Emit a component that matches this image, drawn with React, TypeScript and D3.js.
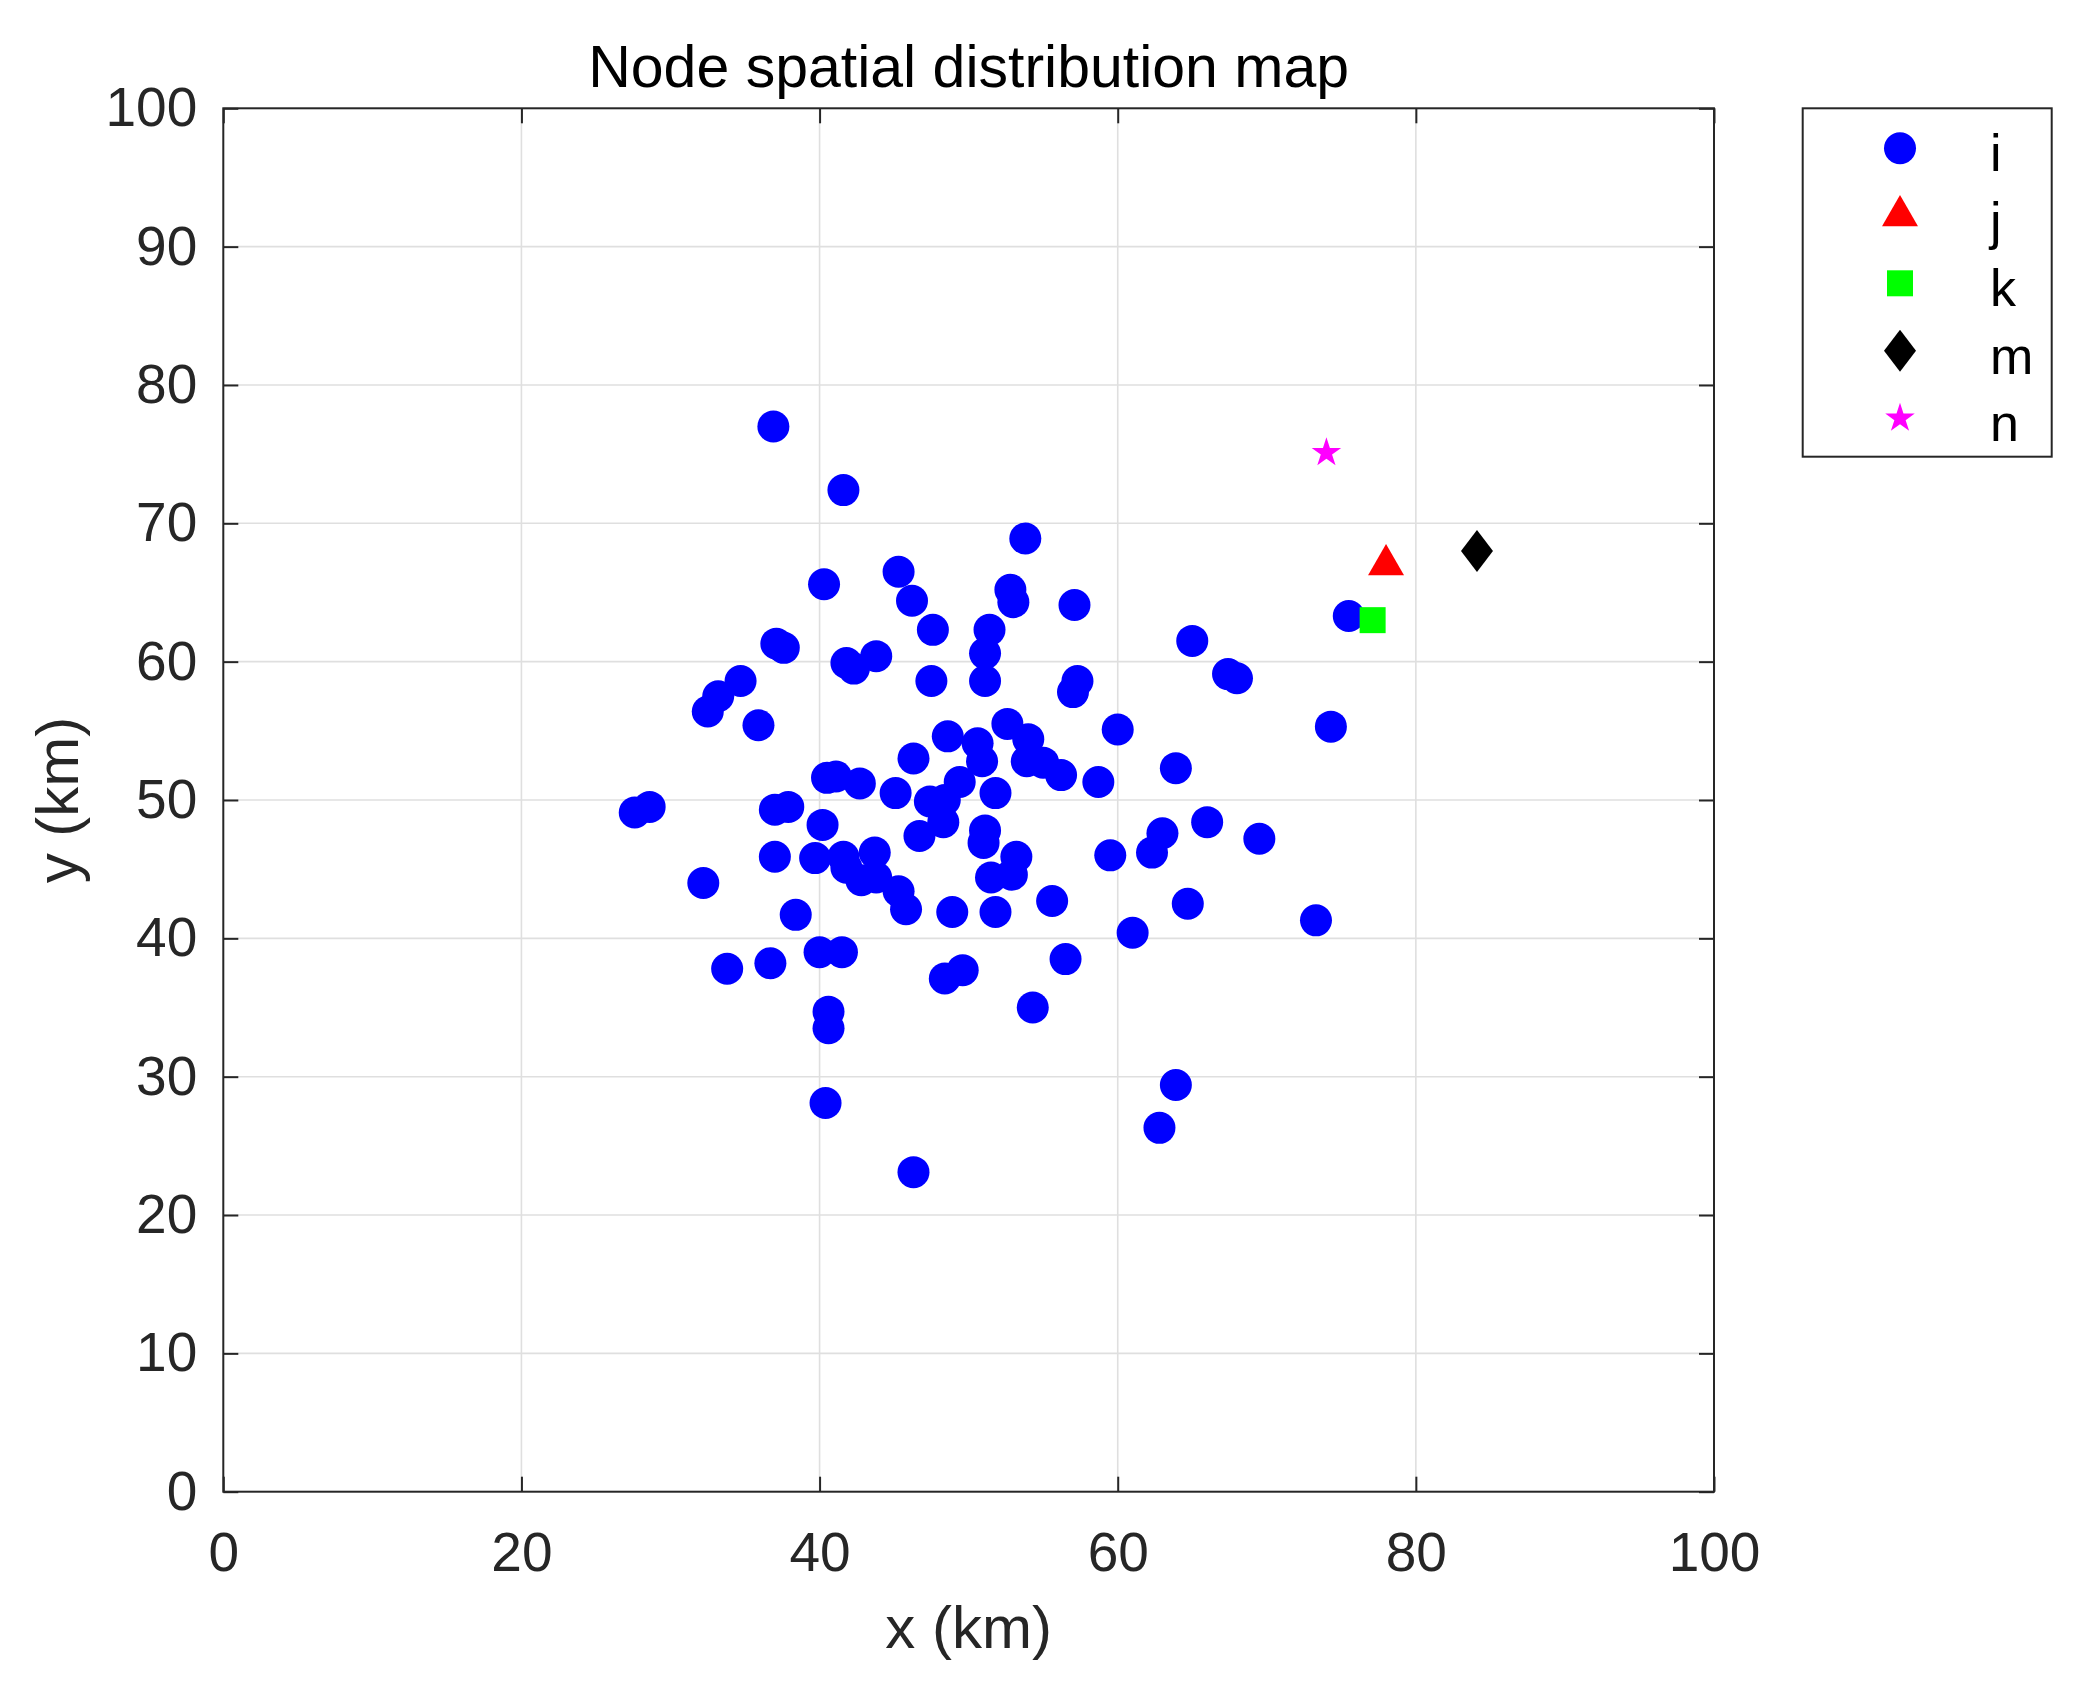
import React, { useEffect, useRef } from "react";
import * as d3 from "d3";

// node i (blue circles)
const nodeX = [
  36.9, 41.6, 53.8, 45.3, 40.3, 52.8, 53.0, 46.2, 57.1, 47.6,
  51.4, 75.5, 37.1, 37.6, 65.0, 41.8, 42.3, 43.8, 51.1, 51.1,
  47.5, 34.7, 33.2, 32.5, 35.9, 57.3, 57.0, 67.4, 68.0, 74.3,
  60.0, 48.6, 50.6, 52.6, 54.0, 50.9, 46.3, 53.9, 55.0, 56.2,
  58.7, 63.9, 42.7, 40.5, 41.1, 45.1, 49.4, 48.4, 47.4, 51.8,
  27.6, 28.6, 37.0, 37.9, 40.2, 48.3, 46.7, 51.1, 51.0, 66.0,
  63.0, 69.5, 53.2, 59.5, 62.3, 37.0, 39.7, 41.6, 43.7, 41.8,
  42.8, 43.8, 45.3, 45.8, 51.5, 52.9, 32.2, 38.4, 48.9, 51.8,
  55.6, 64.7, 73.3, 61.0, 40.0, 41.5, 36.7, 33.8, 56.5, 48.4,
  49.6, 54.3, 40.6, 40.6, 40.4, 63.9, 62.8, 46.3,
];
const nodeY = [
  77.0, 72.4, 68.9, 66.5, 65.6, 65.2, 64.3, 64.4, 64.1, 62.3,
  62.3, 63.3, 61.3, 61.0, 61.5, 59.9, 59.5, 60.4, 60.6, 58.6,
  58.6, 58.6, 57.5, 56.4, 55.4, 58.6, 57.8, 59.1, 58.8, 55.3,
  55.1, 54.6, 54.1, 55.5, 54.4, 52.8, 53.0, 52.8, 52.7, 51.8,
  51.3, 52.3, 51.2, 51.6, 51.7, 50.5, 51.3, 50.0, 49.9, 50.5,
  49.1, 49.5, 49.3, 49.5, 48.2, 48.4, 47.4, 47.8, 46.9, 48.4,
  47.6, 47.2, 45.9, 46.0, 46.2, 45.9, 45.8, 45.9, 46.2, 45.1,
  44.2, 44.4, 43.4, 42.1, 44.4, 44.6, 44.0, 41.7, 41.9, 41.9,
  42.7, 42.5, 41.3, 40.4, 39.0, 39.0, 38.2, 37.8, 38.5, 37.1,
  37.7, 35.0, 34.7, 33.5, 28.1, 29.4, 26.3, 23.1,
];

// single nodes j, k, m, n
const nodeJ = [78.0, 67.0];
const nodeK = [77.1, 63.0];
const nodeM = [84.1, 68.0];
const nodeN = [74.0, 75.1];

const legendLabels = ["i", "j", "k", "m", "n"];
const xTicks = [0, 20, 40, 60, 80, 100];
const yTicks = [0, 10, 20, 30, 40, 50, 60, 70, 80, 90, 100];

const W = 2078;
const H = 1689;
const FONT = "'Liberation Sans', Arial, Helvetica, sans-serif";
const AXIS_COLOR = "#262626";

function diamondPath(w: number, h: number) {
  const p = d3.path();
  p.moveTo(0, -h / 2);
  p.lineTo(w / 2, 0);
  p.lineTo(0, h / 2);
  p.lineTo(-w / 2, 0);
  p.closePath();
  return p.toString();
}

// marker painters, one per series
const markers = [
  { path: d3.symbol(d3.symbolCircle, Math.PI * 16 * 16)(), fill: "#0000ff" },
  { path: d3.symbol(d3.symbolTriangle, 560)(), fill: "#ff0000" },
  { path: d3.symbol(d3.symbolSquare, 26 * 26)(), fill: "#00ff00" },
  { path: diamondPath(32, 42), fill: "#000000" },
  { path: d3.symbol(d3.symbolStar, 270)(), fill: "#ff00ff" },
];

export default function App() {
  const ref = useRef<SVGSVGElement>(null);

  useEffect(() => {
    const svg = d3.select(ref.current);
    svg.selectAll("*").remove();

    const x = d3.scaleLinear().domain([0, 100]).range([223.3, 1714]);
    const y = d3.scaleLinear().domain([0, 100]).range([1491.7, 108.3]);
    const [x0, x1] = x.range();
    const [y0, y1] = y.range();

    svg.append("rect").attr("width", W).attr("height", H).attr("fill", "#fff");

    // grid
    const grid = svg.append("g");
    grid.selectAll(".gx")
      .data(xTicks.slice(1, -1))
      .join("line")
      .attr("x1", (d) => x(d)).attr("x2", (d) => x(d))
      .attr("y1", y1).attr("y2", y0)
      .attr("stroke", "#dfdfdf").attr("stroke-width", 1.6);
    grid.selectAll(".gy")
      .data(yTicks.slice(1, -1))
      .join("line")
      .attr("x1", x0).attr("x2", x1)
      .attr("y1", (d) => y(d)).attr("y2", (d) => y(d))
      .attr("stroke", "#dfdfdf").attr("stroke-width", 1.6);

    // points
    const plot = svg.append("g");
    const allSeries = [
      nodeX.map((v, i) => [v, nodeY[i]]),
      [nodeJ],
      [nodeK],
      [nodeM],
      [nodeN],
    ];
    allSeries.forEach((pts, s) => {
      plot.append("g")
        .selectAll("path")
        .data(pts)
        .join("path")
        .attr("d", markers[s].path)
        .attr("transform", (d) => `translate(${x(d[0])},${y(d[1])})`)
        .attr("fill", markers[s].fill);
    });

    // axes, ticks inward on all four sides
    const styleAxis = (g: any) => {
      g.select(".domain").remove();
      g.selectAll("line").attr("stroke", AXIS_COLOR).attr("stroke-width", 2);
      g.selectAll("text")
        .attr("fill", AXIS_COLOR)
        .attr("font-family", FONT)
        .attr("font-size", 55);
    };

    svg.append("g")
      .attr("transform", `translate(0,${y0})`)
      .call(d3.axisBottom(x).tickValues(xTicks).tickSize(-15).tickPadding(40).tickFormat(d3.format("d")))
      .call(styleAxis);
    svg.append("g")
      .attr("transform", `translate(0,${y1})`)
      .call(d3.axisTop(x).tickValues(xTicks).tickSize(-15).tickFormat(() => ""))
      .call(styleAxis);
    svg.append("g")
      .attr("transform", `translate(${x0},0)`)
      .call(d3.axisLeft(y).tickValues(yTicks).tickSize(-15).tickPadding(26).tickFormat(d3.format("d")))
      .call(styleAxis);
    svg.append("g")
      .attr("transform", `translate(${x1},0)`)
      .call(d3.axisRight(y).tickValues(yTicks).tickSize(-15).tickFormat(() => ""))
      .call(styleAxis);

    // frame
    svg.append("rect")
      .attr("x", x0).attr("y", y1)
      .attr("width", x1 - x0).attr("height", y0 - y1)
      .attr("fill", "none")
      .attr("stroke", AXIS_COLOR)
      .attr("stroke-width", 2);

    // titles
    svg.append("text")
      .attr("x", (x0 + x1) / 2)
      .attr("y", 87)
      .attr("text-anchor", "middle")
      .attr("font-family", FONT)
      .attr("font-size", 59)
      .attr("fill", "#000")
      .text("Node spatial distribution map");

    svg.append("text")
      .attr("x", (x0 + x1) / 2)
      .attr("y", 1648)
      .attr("text-anchor", "middle")
      .attr("font-family", FONT)
      .attr("font-size", 60)
      .attr("fill", AXIS_COLOR)
      .text("x (km)");

    svg.append("text")
      .attr("transform", `translate(78,${(y0 + y1) / 2}) rotate(-90)`)
      .attr("text-anchor", "middle")
      .attr("font-family", FONT)
      .attr("font-size", 60)
      .attr("fill", AXIS_COLOR)
      .text("y (km)");

    // legend
    const legend = svg.append("g");
    legend.append("rect")
      .attr("x", 1802.7).attr("y", 108.3)
      .attr("width", 249).attr("height", 348.4)
      .attr("fill", "#fff")
      .attr("stroke", AXIS_COLOR)
      .attr("stroke-width", 2);
    const rowY = d3.scalePoint<string>().domain(legendLabels).range([148.3, 418.3]);
    legendLabels.forEach((label, s) => {
      legend.append("path")
        .attr("d", markers[s].path)
        .attr("transform", `translate(1900,${rowY(label)})`)
        .attr("fill", markers[s].fill);
      legend.append("text")
        .attr("x", 1990)
        .attr("y", (rowY(label) as number) + 23)
        .attr("font-family", FONT)
        .attr("font-size", 52)
        .attr("fill", "#000")
        .text(label);
    });
  }, []);

  return (
    <svg
      ref={ref}
      width={W}
      height={H}
      style={{ position: "absolute", left: 0, top: 0, display: "block" }}
    />
  );
}
